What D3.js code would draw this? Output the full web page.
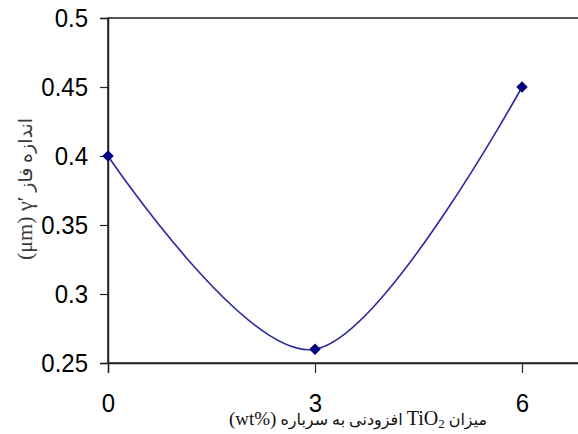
<!DOCTYPE html>
<html>
<head>
<meta charset="utf-8">
<script src="https://cdn.jsdelivr.net/npm/d3@7"></script>
<style>
  html, body { margin: 0; padding: 0; background: #fff; }
  svg { display: block; }
</style>
</head>
<body>
<svg id="chart" width="578" height="434"></svg>
<script>
// TiO2 added to slag (wt%) vs. gamma-prime phase size (µm)
const tio2 = [0, 3, 6];
const phaseSize = [0.40, 0.26, 0.45];
const xTicks = [0, 3, 6];
const yTicks = [0.25, 0.30, 0.35, 0.40, 0.45, 0.50];
const yTickLabels = ["0.25", "0.3", "0.35", "0.4", "0.45", "0.5"];

const svg = d3.select("#chart");
const plotLeft = 108, plotTop = 18, plotBottom = 363;
const unit = 69; // px per 1 wt%

const x = d3.scaleLinear().domain([0, 7]).range([plotLeft, plotLeft + 7 * unit]);
const y = d3.scaleLinear().domain([0.25, 0.5]).range([plotBottom, plotTop]);

// plot frame
svg.append("rect")
  .attr("x", x(0)).attr("y", y(0.5))
  .attr("width", x(7) - x(0)).attr("height", y(0.25) - y(0.5))
  .attr("fill", "none").attr("stroke", "#222").attr("stroke-width", 1.5);

// y axis
const yAxis = d3.axisLeft(y)
  .tickValues(yTicks)
  .tickSize(8)
  .tickPadding(12)
  .tickFormat((d, i) => yTickLabels[i]);
const gy = svg.append("g").attr("transform", `translate(${x(0)},0)`).call(yAxis);
gy.select(".domain").attr("stroke", "#222").attr("stroke-width", 1.5);
gy.selectAll(".tick line").attr("stroke", "#222").attr("stroke-width", 1.2);
gy.selectAll(".tick text")
  .attr("font-family", "'Liberation Sans', Arial, sans-serif")
  .attr("font-size", 24)
  .attr("fill", "#000")
  .attr("dy", "0.34em")
  .attr("transform", "scale(1,1.1)");

// x axis
const xAxis = d3.axisBottom(x)
  .tickValues(xTicks)
  .tickSize(10)
  .tickPadding(17)
  .tickFormat(d3.format("d"));
const gx = svg.append("g").attr("transform", `translate(0,${y(0.25)})`).call(xAxis);
gx.select(".domain").attr("stroke", "#222").attr("stroke-width", 1.5);
gx.selectAll(".tick line").attr("stroke", "#222").attr("stroke-width", 1.2);
gx.selectAll(".tick text")
  .attr("font-family", "'Liberation Sans', Arial, sans-serif")
  .attr("font-size", 24)
  .attr("fill", "#000")
  .attr("dy", "0.72em")
  .attr("transform", "scale(1,1.1)");

// smoothed series line
const pts = tio2.map((v, i) => [v, phaseSize[i]]);
const line = d3.line()
  .x(d => x(d[0]))
  .y(d => y(d[1]))
  .curve(d3.curveCatmullRom.alpha(0));
svg.append("path")
  .datum(pts)
  .attr("d", line)
  .attr("fill", "none")
  .attr("stroke", "#2a2a9c")
  .attr("stroke-width", 1.6);

// diamond markers
svg.selectAll("path.marker")
  .data(pts)
  .join("path")
  .attr("class", "marker")
  .attr("d", d3.symbol(d3.symbolSquare, 66)())
  .attr("transform", d => `translate(${x(d[0])},${y(d[1])}) rotate(45)`)
  .attr("fill", "#000080");

// y axis title (right-to-left, with explicit marks to keep γ′ and (μm) in order)
const yt = svg.append("text")
  .attr("transform", `translate(32,189) rotate(-90)`)
  .attr("text-anchor", "middle")
  .attr("direction", "rtl")
  .attr("font-family", "'Liberation Serif', 'DejaVu Sans', serif")
  .attr("fill", "#3a3a3a");
yt.append("tspan").attr("font-size", 19).text("اندازه فاز ");
yt.append("tspan").attr("font-size", 22).text("γ′\u200E\u200F (μm)");

// x axis title
const xt = svg.append("text")
  .attr("x", 358).attr("y", 425)
  .attr("text-anchor", "middle")
  .attr("direction", "rtl")
  .attr("font-family", "'Liberation Serif', 'DejaVu Sans', serif")
  .attr("fill", "#111");
xt.append("tspan").attr("font-size", 16).text("میزان ");
xt.append("tspan").attr("font-size", 20).text("TiO");
xt.append("tspan").attr("baseline-shift", "-3").attr("font-size", 13).text("2");
xt.append("tspan").attr("font-size", 16).text(" افزودنی به سرباره ");
xt.append("tspan").attr("font-size", 19).text("(wt%\u200E)");
</script>
</body>
</html>
